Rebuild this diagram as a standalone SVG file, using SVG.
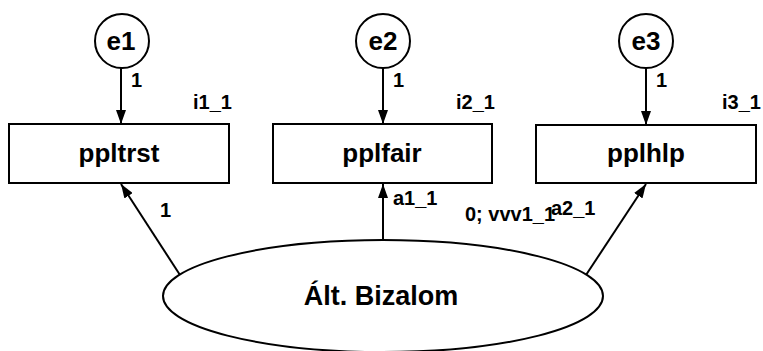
<svg xmlns="http://www.w3.org/2000/svg" width="763" height="351" viewBox="0 0 763 351">
<style>
  .shape { fill: #ffffff; stroke: #000000; stroke-width: 2; }
  .edge { stroke: #000000; stroke-width: 2; fill: none; }
  .big { font-family: "Liberation Sans", Arial, sans-serif; font-weight: bold; font-size: 26px; fill: #000; text-anchor: middle; }
  .err { font-family: "Liberation Sans", Arial, sans-serif; font-weight: bold; font-size: 26px; fill: #000; text-anchor: middle; }
  .lbl { font-family: "Liberation Sans", Arial, sans-serif; font-weight: bold; font-size: 20px; fill: #000; }
</style>
<defs>
  <marker id="arr" viewBox="0 0 14 10" refX="14" refY="5" markerWidth="14" markerHeight="10" markerUnits="userSpaceOnUse" orient="auto">
    <path d="M0,0 L14,5 L0,10 Z" fill="#000"/>
  </marker>
</defs>
<rect width="763" height="351" fill="#ffffff"/>
<g id="connectors">
  <line class="edge" x1="121" y1="68" x2="121" y2="124" marker-end="url(#arr)"/>
  <line class="edge" x1="383" y1="68" x2="383" y2="124" marker-end="url(#arr)"/>
  <line class="edge" x1="646" y1="68" x2="646" y2="125" marker-end="url(#arr)"/>
  <line class="edge" x1="180" y1="275" x2="121" y2="184" marker-end="url(#arr)"/>
  <line class="edge" x1="383" y1="240" x2="383" y2="184" marker-end="url(#arr)"/>
  <line class="edge" x1="586" y1="275" x2="646" y2="184" marker-end="url(#arr)"/>
</g>
<g id="e1">
  <circle class="shape" cx="122" cy="41" r="27"/>
  <text class="err" x="121" y="50">e1</text>
</g>
<g id="e2">
  <circle class="shape" cx="383" cy="41" r="27"/>
  <text class="err" x="383" y="50">e2</text>
</g>
<g id="e3">
  <circle class="shape" cx="646" cy="41" r="27"/>
  <text class="err" x="646" y="50">e3</text>
</g>
<g id="ppltrst">
  <rect class="shape" x="9" y="124" width="220" height="59"/>
  <text class="big" x="119" y="162">ppltrst</text>
</g>
<g id="pplfair">
  <rect class="shape" x="273" y="124" width="219" height="59"/>
  <text class="big" x="382" y="162">pplfair</text>
</g>
<g id="pplhlp">
  <rect class="shape" x="536" y="125" width="220" height="58"/>
  <text class="big" x="646" y="162">pplhlp</text>
</g>
<g id="alt_bizalom">
  <ellipse class="shape" cx="383" cy="296" rx="220" ry="56"/>
  <text class="big" x="381" y="305" style="font-size:27px">Ált. Bizalom</text>
</g>
<g id="labels">
  <text class="lbl" x="131" y="87">1</text>
  <text class="lbl" x="193" y="109">i1_1</text>
  <text class="lbl" x="393" y="87">1</text>
  <text class="lbl" x="456" y="109">i2_1</text>
  <text class="lbl" x="656" y="87">1</text>
  <text class="lbl" x="722" y="109">i3_1</text>
  <text class="lbl" x="160" y="217">1</text>
  <text class="lbl" x="393" y="205">a1_1</text>
  <text class="lbl" x="465" y="221">0; vvv1_1</text>
  <text class="lbl" x="551" y="215">a2_1</text>
</g>
</svg>
